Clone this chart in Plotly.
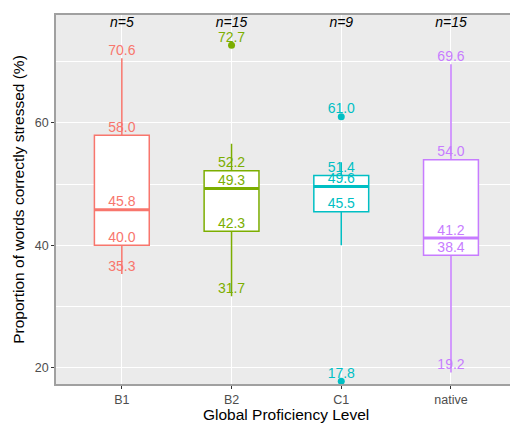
import plotly.graph_objects as go

# Proficiency groups and their box statistics (%)
levels = ["B1", "B2", "C1", "native"]
colors = ["#F8766D", "#7CAE00", "#00BFC4", "#C77CFF"]
n_counts = [5, 15, 9, 15]
lower_whisker = [35.3, 31.7, 40.0, 19.2]
q1 = [40.0, 42.3, 45.5, 38.4]
median = [45.8, 49.3, 49.6, 41.2]
q3 = [58.0, 52.2, 51.4, 54.0]
upper_whisker = [70.6, 56.6, 53.6, 69.6]
outliers = [[], [72.7], [61.0, 17.8], []]
# Values written next to each box (max, Q3, median, Q1, min)
labels = [
    [70.6, 58.0, 45.8, 40.0, 35.3],
    [72.7, 52.2, 49.3, 42.3, 31.7],
    [61.0, 51.4, 49.6, 45.5, 17.8],
    [69.6, 54.0, 41.2, 38.4, 19.2],
]

FONT = "Liberation Sans, Arial, sans-serif"
BOX_W = 0.5
X_RANGE = [-0.6, 3.538]

fig = go.Figure()
for i, lvl in enumerate(levels):
    c = colors[i]
    fig.add_trace(go.Box(
        x=[i], q1=[q1[i]], median=[median[i]], q3=[q3[i]],
        lowerfence=[lower_whisker[i]], upperfence=[upper_whisker[i]],
        width=BOX_W, whiskerwidth=0, fillcolor="white",
        line=dict(color=c, width=1.5), boxpoints=False,
        showlegend=False, hoverinfo="skip",
    ))
    # thicker median bar
    fig.add_trace(go.Scatter(
        x=[i - BOX_W / 2, i + BOX_W / 2], y=[median[i], median[i]],
        mode="lines", line=dict(color=c, width=3),
        showlegend=False, hoverinfo="skip",
    ))
    if outliers[i]:
        fig.add_trace(go.Scatter(
            x=[i] * len(outliers[i]), y=outliers[i], mode="markers",
            marker=dict(color=c, size=7), showlegend=False, hoverinfo="skip",
        ))
    fig.add_trace(go.Scatter(
        x=[i] * len(labels[i]), y=labels[i], mode="text",
        text=[f"{v:.1f}" for v in labels[i]], textposition="top center",
        textfont=dict(family=FONT, size=14, color=c),
        showlegend=False, hoverinfo="skip",
    ))

# sample sizes along the top
fig.add_trace(go.Scatter(
    x=list(range(len(levels))), y=[76.2] * len(levels), mode="text",
    text=[f"n={n}" for n in n_counts], textposition="middle center",
    textfont=dict(family=FONT, size=14, color="black", style="italic"),
    showlegend=False, hoverinfo="skip",
))

# x-axis title, centred on the full panel width (-0.6 .. 3.6)
panel_mid = (X_RANGE[0] + 3.6) / 2
fig.add_annotation(
    x=panel_mid, xref="x", y=-0.084, yref="paper",
    text="Global Proficiency Level", showarrow=False,
    xanchor="center", yanchor="middle",
    font=dict(family=FONT, size=15.5, color="black"),
)

fig.update_layout(
    width=510, height=423,
    margin=dict(l=56, r=0, t=15, b=39),
    paper_bgcolor="white", plot_bgcolor="#EBEBEB",
    font=dict(family=FONT),
)
fig.update_xaxes(
    range=X_RANGE, tickvals=list(range(len(levels))), ticktext=levels,
    showgrid=True, gridcolor="white", gridwidth=1.2, zeroline=False,
    ticks="outside", ticklen=3, tickcolor="#333333",
    tickfont=dict(size=12.5, color="#4D4D4D"),
    showline=True, linecolor="#A0A0A0", linewidth=1.5, mirror=True,
)
fig.update_yaxes(
    range=[17.34, 77.65], tickvals=[20, 40, 60],
    showgrid=True, gridcolor="white", gridwidth=1.2, zeroline=False,
    minor=dict(tickvals=[30, 50, 70], showgrid=True, gridcolor="white", gridwidth=0.6, ticks=""),
    ticks="outside", ticklen=3, tickcolor="#333333",
    tickfont=dict(size=12.5, color="#4D4D4D"),
    showline=True, linecolor="#A0A0A0", linewidth=1.5, mirror=False,
    title=dict(text="Proportion of words correctly stressed (%)", font=dict(size=15.5, color="black"), standoff=6),
)

fig.write_html("out.html")
